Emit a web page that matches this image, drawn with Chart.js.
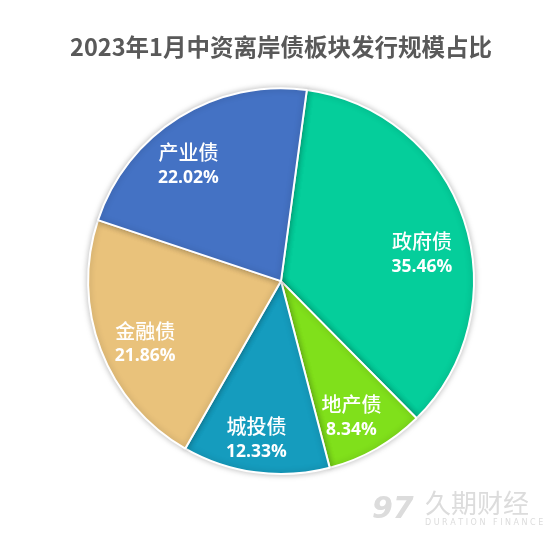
<!DOCTYPE html>
<html><head><meta charset="utf-8">
<script src="https://cdn.jsdelivr.net/npm/chart.js@4/dist/chart.umd.min.js"></script>
<style>html,body{margin:0;padding:0;background:#fff}#wrap{width:552px;height:537px;position:relative}</style>
</head><body><div id="wrap"><canvas id="c"></canvas></div>
<script>
const titleText = '2023年1月中资离岸债板块发行规模占比';
const categories = ['政府债', '地产债', '城投债', '金融债', '产业债'];
const shares = [35.46, 8.34, 12.33, 21.86, 22.02];
const percentLabels = ['35.46%', '8.34%', '12.33%', '21.86%', '22.02%'];
const sliceColors = ['#05CE9B', '#80E01B', '#159CBE', '#E9C27B', '#4472C4'];
// label nudges (style only), in pixels
const labelNudgeX = [0, -3, -5, 3, -14];
const labelNudgeY = [20, 7, 11, 9.5, 10];

const shadowPlugin = {
  id: 'shadow',
  beforeDatasetsDraw(chart) {
    const ctx = chart.ctx;
    ctx.save();
    ctx.shadowColor = 'rgba(0,0,0,0.25)';
    ctx.shadowBlur = 6;
  },
  afterDatasetsDraw(chart) { chart.ctx.restore(); }
};

const labelPlugin = {
  id: 'sliceLabels',
  afterDatasetsDraw(chart) {
    const ctx = chart.ctx;
    const meta = chart.getDatasetMeta(0);
    meta.data.forEach((arc, i) => {
      const p = arc.getProps(['x', 'y', 'startAngle', 'endAngle', 'outerRadius'], true);
      const mid = (p.startAngle + p.endAngle) / 2;
      const r = p.outerRadius * 0.77;
      const x = p.x + Math.cos(mid) * r + labelNudgeX[i];
      const y = p.y + Math.sin(mid) * r + labelNudgeY[i];
      ctx.save();
      ctx.fillStyle = '#ffffff';
      ctx.textAlign = 'center';
      ctx.textBaseline = 'middle';
      ctx.font = '500 20px "Noto Sans CJK SC", sans-serif';
      ctx.fillText(categories[i], x, y - 12.5);
      ctx.font = 'bold 17.5px "Open Sans", "Liberation Sans", sans-serif';
      ctx.fillText(percentLabels[i], x, y + 12.5);
      ctx.restore();
    });
  }
};

const watermarkPlugin = {
  id: 'watermark',
  afterDraw(chart) {
    const ctx = chart.ctx;
    ctx.save();
    ctx.fillStyle = '#dcdcdc';
    ctx.textAlign = 'left';
    ctx.textBaseline = 'middle';
    ctx.font = '26px "Noto Sans CJK SC", sans-serif';
    ctx.fillText('久期财经', 425, 503);
    ctx.font = '8px "DejaVu Sans", sans-serif';
    ctx.fillText('D U R A T I O N   F I N A N C E', 425, 523);
    ctx.font = 'italic bold 30px "DejaVu Sans", sans-serif';
    ctx.fillText('97', 372, 510);
    ctx.restore();
  }
};

new Chart(document.getElementById('c'), {
  type: 'pie',
  data: {
    labels: categories,
    datasets: [{
      data: shares,
      backgroundColor: sliceColors,
      borderColor: '#ffffff',
      borderWidth: 2,
      hoverOffset: 0,
      offset: 0
    }]
  },
  options: {
    responsive: true,
    maintainAspectRatio: false,
    animation: false,
    rotation: 7.7,
    layout: { padding: { left: 10, right: 0, top: 0, bottom: 62 } },
    plugins: {
      legend: { display: false },
      tooltip: { enabled: false },
      title: {
        display: true,
        text: titleText,
        color: '#595959',
        font: { size: 23.5, weight: 'bold', family: '"Noto Sans CJK SC", sans-serif' },
        padding: { top: 33, bottom: 26 }
      }
    }
  },
  plugins: [shadowPlugin, labelPlugin, watermarkPlugin]
});
</script></body></html>
